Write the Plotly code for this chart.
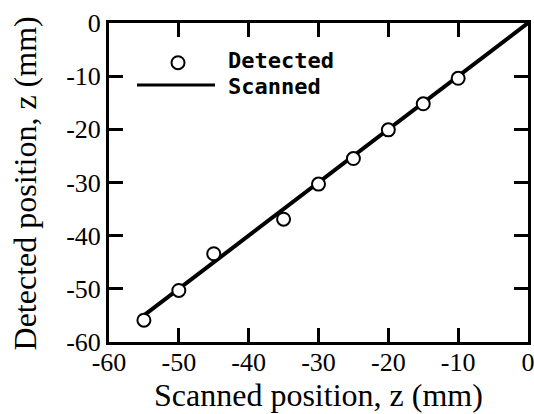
import plotly.graph_objects as go

# Data
scanned_pos = [-55, -50, -45, -35, -30, -25, -20, -15, -10]
detected_pos = [-55.9, -50.3, -43.4, -36.9, -30.3, -25.5, -20.1, -15.2, -10.4]
line_x = [-55, 0]
line_y = [-55, 0]
tick_vals = [-60, -50, -40, -30, -20, -10, 0]
tick_text = ["-60", "-50", "-40", "-30", "-20", "-10", "0"]
x_title = "Scanned position, z (mm)"
y_title = "Detected position, z (mm)"

fig = go.Figure()
fig.add_trace(go.Scatter(x=line_x, y=line_y, mode="lines",
                         line=dict(color="black", width=4), showlegend=False))
fig.add_trace(go.Scatter(x=scanned_pos, y=detected_pos, mode="markers",
                         marker=dict(symbol="circle", size=13, color="white",
                                     line=dict(color="black", width=2)),
                         showlegend=False, cliponaxis=False))

serif = "Liberation Serif, Times New Roman, serif"
axis_common = dict(range=[-60, 0], tickvals=tick_vals, ticktext=tick_text,
                   ticks="inside", ticklen=14, tickwidth=3, tickcolor="black",
                   showline=True, linewidth=3, linecolor="black", mirror="ticks",
                   showgrid=False, zeroline=False,
                   tickfont=dict(family=serif, size=26, color="black"),
                   ticklabeloverflow="allow",
                   automargin=False)

fig.update_layout(
    width=534, height=414,
    margin=dict(l=109, r=6, t=23, b=72),
    paper_bgcolor="white", plot_bgcolor="white",
    xaxis=dict(**axis_common, ticklabelstandoff=-5),
    yaxis=dict(**axis_common, ticklabelstandoff=0),
    showlegend=False,
)

title_font = dict(family=serif, size=32, color="black")
fig.add_annotation(xref="paper", yref="paper", x=0.499, y=-0.166, text=x_title,
                   showarrow=False, xanchor="center", yanchor="middle", font=title_font)
fig.add_annotation(xref="paper", yref="paper", x=-0.2005, y=0.497, text=y_title,
                   textangle=-90, showarrow=False, xanchor="center", yanchor="middle",
                   font=title_font)

# Legend drawn manually
legend_font = dict(family="DejaVu Sans Mono", size=22, color="black", weight="bold")
fig.add_shape(type="circle", xref="paper", yref="paper",
              xsizemode="pixel", ysizemode="pixel",
              xanchor=0.1647, yanchor=0.8755, x0=-6.5, x1=6.5, y0=-6.5, y1=6.5,
              line=dict(color="black", width=2), fillcolor="white")
fig.add_shape(type="line", xref="paper", yref="paper",
              x0=0.0668, x1=0.253, y0=0.8056, y1=0.8056,
              line=dict(color="black", width=3))
fig.add_annotation(xref="paper", yref="paper", x=0.2804, y=0.881, text="Detected",
                   showarrow=False, xanchor="left", yanchor="middle", font=legend_font)
fig.add_annotation(xref="paper", yref="paper", x=0.2804, y=0.802, text="Scanned",
                   showarrow=False, xanchor="left", yanchor="middle", font=legend_font)

fig.write_html("out.html")
